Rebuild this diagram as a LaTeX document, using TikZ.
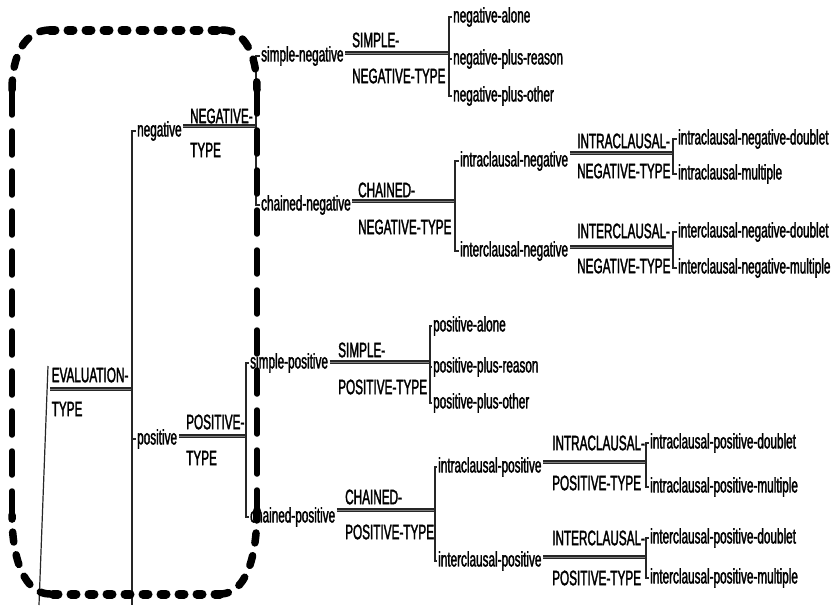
\documentclass[tikz,border=0pt]{standalone}
\usepackage{fontspec}
\setmainfont[FakeStretch=0.56,FakeBold=1.6]{Liberation Sans}
\newcommand\lbf{\fontsize{21}{23}\selectfont}
\begin{document}
\begin{tikzpicture}[x=1pt,y=-1pt,
  lbl/.style={anchor=west, inner xsep=1.5pt, inner ysep=0pt, font=\lbf, text=black},
  feat/.style={draw=black!85, line width=1.2pt, double=black!50, double distance=1pt},
  brk/.style={draw=black!85, line width=1.2pt},
  hdash/.style={line width=9pt, line cap=round, dash pattern=on 5pt off 13pt},
  vdash/.style={line width=5.5pt, line cap=round, dash pattern=on 24pt off 16pt},
  cdash/.style={line width=7.5pt, line cap=round, dash pattern=on 10pt off 13pt}]
\useasboundingbox (0,0) rectangle (832,605);
\fill[white] (0,0) rectangle (832,605);

% ---------- root ----------
\node[lbl] (evA) at (50,375) {EVALUATION-};
\node[lbl] (evB) at (50,409) {TYPE};
\coordinate (rootT) at (48,366);
\coordinate (rootB) at (39,605);
\draw[brk] (rootT) -- (rootB);
\coordinate (evL) at (50,389);
\coordinate (evR) at (132,389);
\draw[feat] (evL) -- (evR);

% ---------- level 1 ----------
\node[lbl] (neg) at (135.5,131) {negative};
\node[lbl] (pos) at (135.5,439) {positive};
\coordinate (x0) at (132,0);
\coordinate (b0B) at (132,605);
\draw[brk] (neg.west) -- (neg.west -| x0) -- (b0B);
\draw[brk] (pos.west -| x0) -- (pos.west);

% negative branch
\coordinate (f1) at (256,126);
\draw[feat] (neg.east |- f1) -- (f1);
\node[lbl] (negA) at (188.5,116) {NEGATIVE-};
\node[lbl] (negB) at (188.5,150) {TYPE};
\coordinate (x1) at (256,0);
\node[lbl] (simneg) at (259.5,56) {simple-negative};
\node[lbl] (chneg) at (259.5,205) {chained-negative};
\draw[brk] (simneg.west) -- (simneg.west -| x1) -- (chneg.west -| x1) -- (chneg.west);

% simple-negative
\coordinate (f2) at (449,53);
\draw[feat] (simneg.east |- f2) -- (f2);
\node[lbl] (snA) at (350.5,40) {SIMPLE-};
\node[lbl] (snB) at (350.5,76) {NEGATIVE-TYPE};
\coordinate (x2) at (449,0);
\node[lbl] (nal) at (451.5,17) {negative-alone};
\node[lbl] (nre) at (451.5,59) {negative-plus-reason};
\node[lbl] (not) at (451.5,96) {negative-plus-other};
\draw[brk] (nal.west) -- (nal.west -| x2) -- (not.west -| x2) -- (not.west);
\draw[brk] (nre.west -| x2) -- (nre.west);

% chained-negative
\coordinate (f3) at (455,201);
\draw[feat] (chneg.east |- f3) -- (f3);
\node[lbl] (cnA) at (356.5,190) {CHAINED-};
\node[lbl] (cnB) at (356.5,227) {NEGATIVE-TYPE};
\coordinate (x3) at (455,0);
\node[lbl] (intn) at (458.5,161) {intraclausal-negative};
\node[lbl] (extn) at (458.5,251) {interclausal-negative};
\draw[brk] (intn.west) -- (intn.west -| x3) -- (extn.west -| x3) -- (extn.west);

% intraclausal-negative
\coordinate (f4) at (673,153);
\draw[feat] (intn.east |- f4) -- (f4);
\node[lbl] (inA) at (575.5,141) {INTRACLAUSAL-};
\node[lbl] (inB) at (575.5,171) {NEGATIVE-TYPE};
\coordinate (x4) at (673,0);
\node[lbl] (ind) at (676.5,139) {intraclausal-negative-doublet};
\node[lbl] (inm) at (676.5,174) {intraclausal-multiple};
\draw[brk] (ind.west) -- (ind.west -| x4) -- (inm.west -| x4) -- (inm.west);

% interclausal-negative
\coordinate (f5) at (673,247);
\draw[feat] (extn.east |- f5) -- (f5);
\node[lbl] (xnA) at (575.5,231) {INTERCLAUSAL-};
\node[lbl] (xnB) at (575.5,266) {NEGATIVE-TYPE};
\node[lbl] (xnd) at (676.5,232) {interclausal-negative-doublet};
\node[lbl] (xnm) at (676.5,268) {interclausal-negative-multiple};
\draw[brk] (xnd.west) -- (xnd.west -| x4) -- (xnm.west -| x4) -- (xnm.west);

% positive branch
\coordinate (f6) at (246,436);
\draw[feat] (pos.east |- f6) -- (f6);
\node[lbl] (posA) at (184.5,422) {POSITIVE-};
\node[lbl] (posB) at (184.5,458) {TYPE};
\coordinate (x6) at (246,0);
\node[lbl] (simpos) at (248.5,363) {simple-positive};
\node[lbl] (chpos) at (248.5,517) {chained-positive};
\draw[brk] (simpos.west) -- (simpos.west -| x6) -- (chpos.west -| x6) -- (chpos.west);

% simple-positive
\coordinate (f7) at (430,362);
\draw[feat] (simpos.east |- f7) -- (f7);
\node[lbl] (spA) at (336.5,350) {SIMPLE-};
\node[lbl] (spB) at (336.5,387) {POSITIVE-TYPE};
\coordinate (x7) at (430,0);
\node[lbl] (pal) at (431.5,326) {positive-alone};
\node[lbl] (pre) at (431.5,367) {positive-plus-reason};
\node[lbl] (pot) at (431.5,403) {positive-plus-other};
\draw[brk] (pal.west) -- (pal.west -| x7) -- (pot.west -| x7) -- (pot.west);
\draw[brk] (pre.west -| x7) -- (pre.west);

% chained-positive
\coordinate (f8) at (435,510);
\draw[feat] (chpos.east |- f8) -- (f8);
\node[lbl] (cpA) at (343.5,497) {CHAINED-};
\node[lbl] (cpB) at (343.5,532) {POSITIVE-TYPE};
\coordinate (x8) at (435,0);
\node[lbl] (intp) at (436.5,467) {intraclausal-positive};
\node[lbl] (extp) at (436.5,561) {interclausal-positive};
\draw[brk] (intp.west) -- (intp.west -| x8) -- (extp.west -| x8) -- (extp.west);

% intraclausal-positive
\coordinate (f9) at (646,462);
\draw[feat] (intp.east |- f9) -- (f9);
\node[lbl] (ipA) at (550.5,443) {INTRACLAUSAL-};
\node[lbl] (ipB) at (550.5,483) {POSITIVE-TYPE};
\coordinate (x9) at (646,0);
\node[lbl] (ipd) at (648.5,443) {intraclausal-positive-doublet};
\node[lbl] (ipm) at (648.5,487) {intraclausal-positive-multiple};
\draw[brk] (ipd.west) -- (ipd.west -| x9) -- (ipm.west -| x9) -- (ipm.west);

% interclausal-positive
\coordinate (f10) at (646,557);
\draw[feat] (extp.east |- f10) -- (f10);
\node[lbl] (xpA) at (550.5,538) {INTERCLAUSAL-};
\node[lbl] (xpB) at (550.5,578) {POSITIVE-TYPE};
\node[lbl] (xpd) at (648.5,538) {interclausal-positive-doublet};
\node[lbl] (xpm) at (648.5,578) {interclausal-positive-multiple};
\draw[brk] (xpd.west) -- (xpd.west -| x9) -- (xpm.west -| x9) -- (xpm.west);

% ---------- dashed frame ----------
\coordinate (tl1) at (12,90);   \coordinate (tl2) at (50,30);
\coordinate (tr1) at (222,30);  \coordinate (tr2) at (257,90);
\coordinate (br1) at (257,510); \coordinate (br2) at (220,594);
\coordinate (bl1) at (50,594);  \coordinate (bl2) at (12,515);
\draw[hdash] (tl2) -- (tr1);
\draw[hdash] (br2) -- (bl1);
\draw[vdash] (tr2) -- (br1);
\draw[vdash] (bl2) -- (tl1);
\draw[cdash] (tl1) .. controls (12,55) and (25,30) .. (tl2);
\draw[cdash] (tr1) .. controls (245,30) and (257,55) .. (tr2);
\draw[cdash] (br1) .. controls (257,560) and (245,594) .. (br2);
\draw[cdash] (bl1) .. controls (25,594) and (12,560) .. (bl2);
\end{tikzpicture}
\end{document}
